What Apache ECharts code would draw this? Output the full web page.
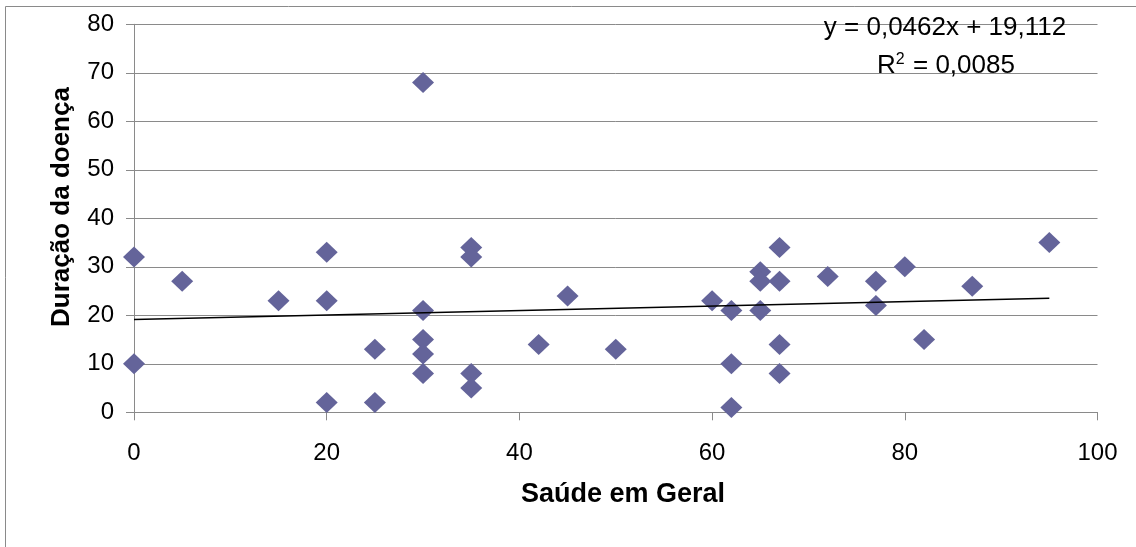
<!DOCTYPE html>
<html>
<head>
<meta charset="utf-8">
<script src="https://cdn.jsdelivr.net/npm/echarts@6/dist/echarts.min.js"></script>
<style>
  html, body { margin: 0; padding: 0; background: #ffffff; }
  #chart { width: 1136px; height: 547px; }
</style>
</head>
<body>
<div id="chart"></div>
<script>
// Saúde em Geral (x) vs. Duração da doença (y)
const saude = [0, 0, 5, 15, 20, 20, 20, 25, 25, 30, 30, 30, 30, 30, 35, 35, 35, 35, 42, 45,
               50, 60, 62, 62, 62, 65, 65, 65, 67, 67, 67, 67, 72, 77, 77, 80, 82, 87, 95];
const duracao = [32, 10, 27, 23, 33, 23, 2, 13, 2, 68, 21, 15, 12, 8, 34, 32, 8, 5, 14, 24,
                 13, 23, 21, 10, 1, 29, 27, 21, 34, 27, 14, 8, 28, 27, 22, 30, 15, 26, 35];

// Linear trendline coefficients
const slope = 0.0462;
const intercept = 19.112;
const r2Text = '0,0085';
const eqText = 'y = 0,0462x + 19,112';

const xTitle = 'Saúde em Geral';
const yTitle = 'Duração da doença';
const xTicks = [0, 20, 40, 60, 80, 100];
const yTicks = [0, 10, 20, 30, 40, 50, 60, 70, 80];

const points = saude.map((x, i) => [x, duracao[i]]);
const xMin = Math.min(...saude);
const xMax = Math.max(...saude);
const trend = [[xMin, slope * xMin + intercept], [xMax, slope * xMax + intercept]];

const FONT = '"Liberation Sans", Arial, sans-serif';
const GRAY = '#8a8a8a';

const chart = echarts.init(document.getElementById('chart'), null, { renderer: 'canvas' });
chart.setOption({
  animation: false,
  backgroundColor: '#ffffff',
  grid: { left: 134, right: 38.5, top: 24.3, bottom: 134.7, containLabel: false },
  xAxis: {
    type: 'value',
    min: xTicks[0], max: xTicks[xTicks.length - 1], interval: 20,
    axisLine: { show: true, onZero: false, lineStyle: { color: GRAY, width: 1 } },
    axisTick: { show: true, inside: false, length: 8, lineStyle: { color: GRAY } },
    axisLabel: { fontFamily: FONT, fontSize: 24, color: '#000', margin: 29 },
    splitLine: { show: false }
  },
  yAxis: {
    type: 'value',
    min: yTicks[0], max: yTicks[yTicks.length - 1], interval: 10,
    axisLine: { show: true, onZero: false, lineStyle: { color: GRAY, width: 1 } },
    axisTick: { show: true, inside: false, length: 8, lineStyle: { color: GRAY } },
    axisLabel: { fontFamily: FONT, fontSize: 24, color: '#000', margin: 20 },
    splitLine: { show: true, lineStyle: { color: GRAY, width: 1 } }
  },
  graphic: [
    {
      // outer chart-area frame
      type: 'rect', silent: true, z: -10,
      shape: { x: 5.5, y: 6.5, width: 1300, height: 700 },
      style: { fill: 'none', stroke: GRAY, lineWidth: 1 }
    },
    {
      type: 'text', x: 623, y: 495, z: 100,
      style: { text: xTitle, font: 'bold 27px ' + FONT, fill: '#000', align: 'center', verticalAlign: 'middle' }
    },
    {
      type: 'text', x: 62, y: 207, rotation: Math.PI / 2, z: 100,
      style: { text: yTitle, font: 'bold 26px ' + FONT, fill: '#000', align: 'center', verticalAlign: 'middle' }
    },
    {
      type: 'text', x: 945, y: 27.5, z: 100,
      style: { text: eqText, font: '26px ' + FONT, fill: '#000', align: 'center', verticalAlign: 'middle' }
    },
    {
      type: 'text', x: 946, y: 65.5, z: 100,
      style: {
        text: '{a|R}{s|2}{a| = ' + r2Text + '}',
        align: 'center', verticalAlign: 'middle',
        rich: {
          a: { fontFamily: FONT, fontSize: 26, fill: '#000', color: '#000' },
          s: { fontFamily: FONT, fontSize: 16, fill: '#000', color: '#000', verticalAlign: 'top', padding: [0, 1, 12, 0] }
        }
      }
    }
  ],
  series: [
    {
      type: 'scatter',
      data: points,
      symbol: 'diamond',
      symbolSize: [22, 21],
      itemStyle: { color: '#64649a', opacity: 1 },
      z: 3
    },
    {
      type: 'line',
      data: trend,
      symbol: 'none',
      lineStyle: { color: '#000', width: 1.5 },
      z: 4
    }
  ]
});
</script>
</body>
</html>
